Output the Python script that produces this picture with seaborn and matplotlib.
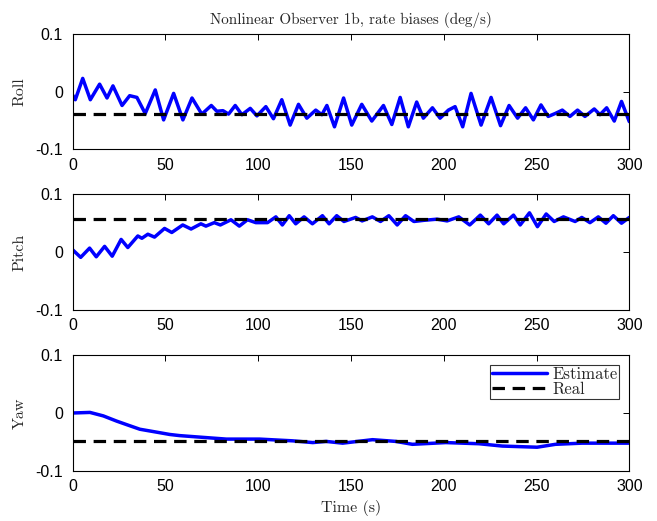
import matplotlib
matplotlib.use("Agg")
import matplotlib.pyplot as plt
import seaborn as sns
import pandas as pd

# ---------------- data ----------------
time_ticks = [0, 50, 100, 150, 200, 250, 300]
y_ticks = [-0.1, 0, 0.1]
y_tick_labels = ["-0.1", "0", "0.1"]
panel_names = ["Roll", "Pitch", "Yaw"]
title_text = "Nonlinear Observer 1b, rate biases (deg/s)"
xlabel_text = "Time (s)"
legend_labels = ["Estimate", "Real"]

roll_t = [0, 1.4, 5.4, 9.5, 14.5, 18.5, 21.7, 26.6, 30.7, 34.6, 39.1, 44.5, 49, 54.4,
          59.4, 64.3, 69.6, 74.7, 77.7, 81, 84, 87.6, 91.2, 95.7, 99.3, 104.1, 108.2,
          112.7, 117.2, 121.7, 126.2, 131, 134.3, 137, 141.1, 146, 150.4, 155.8, 161.2,
          167.5, 172, 176.5, 180.9, 185.4, 189, 193.9, 198, 202.5, 206.1, 210.2, 214.7,
          220.1, 225.5, 230.6, 235.2, 239.8, 244.1, 248.3, 252.4, 256.3, 260, 263.9,
          268, 272.1, 276.1, 281.1, 284.2, 287.8, 291.9, 295.8, 300]
roll_est = [-0.006, -0.014, 0.023, -0.014, 0.013, -0.011, 0.010, -0.024, -0.007, -0.010,
            -0.038, 0.003, -0.049, -0.003, -0.049, -0.011, -0.039, -0.024, -0.034, -0.033,
            -0.039, -0.024, -0.040, -0.029, -0.042, -0.026, -0.047, -0.014, -0.058, -0.022,
            -0.046, -0.032, -0.040, -0.024, -0.061, -0.011, -0.058, -0.022, -0.051, -0.024,
            -0.057, -0.010, -0.061, -0.018, -0.046, -0.028, -0.046, -0.032, -0.026, -0.061,
            -0.003, -0.058, -0.010, -0.059, -0.024, -0.046, -0.028, -0.049, -0.023, -0.043,
            -0.038, -0.032, -0.043, -0.032, -0.043, -0.030, -0.040, -0.028, -0.051, -0.017,
            -0.052]
roll_real = -0.038

pitch_t = [0, 4.3, 9.1, 12.7, 17.2, 21.3, 26.1, 29.7, 35.1, 37.3, 40.5, 44.1, 49.5, 53.4,
           59.3, 63.8, 69.1, 71.8, 76.3, 79.6, 85.3, 89.8, 94.2, 98.7, 105, 109.5, 113,
           116.7, 120.2, 124.7, 129.2, 134.6, 138.2, 142.3, 146.2, 149.8, 152.5, 156,
           161.5, 165.9, 170.4, 174.9, 179.4, 183.9, 189.2, 196.4, 201.8, 208.1, 214,
           219.7, 224.2, 228.7, 232.3, 237.6, 241.2, 246.2, 250.5, 255.2, 259.5, 264.5,
           270.8, 274.4, 278.8, 283.3, 287.4, 291.4, 295.8, 300]
pitch_est = [0.004, -0.009, 0.007, -0.008, 0.010, -0.007, 0.022, 0.008, 0.028, 0.024,
             0.031, 0.026, 0.041, 0.034, 0.047, 0.040, 0.049, 0.045, 0.051, 0.047, 0.056,
             0.045, 0.056, 0.051, 0.051, 0.061, 0.047, 0.063, 0.049, 0.061, 0.049, 0.063,
             0.049, 0.063, 0.053, 0.057, 0.060, 0.054, 0.061, 0.053, 0.063, 0.047, 0.063,
             0.053, 0.055, 0.057, 0.054, 0.061, 0.047, 0.064, 0.049, 0.064, 0.049, 0.064,
             0.047, 0.068, 0.044, 0.066, 0.053, 0.061, 0.053, 0.060, 0.051, 0.061, 0.050,
             0.063, 0.050, 0.060]
pitch_real = 0.057

yaw_t = [0, 9.3, 16.5, 23.7, 30.8, 36.2, 45.2, 52.3, 57.7, 70.2, 82.8, 100.7, 118.6,
         129.4, 136.6, 145.5, 161.6, 174.2, 183.1, 201.1, 219, 231.5, 250.3, 260.2,
         274.5, 300]
yaw_est = [0.0, 0.001, -0.005, -0.014, -0.022, -0.028, -0.033, -0.037, -0.039, -0.042,
           -0.045, -0.045, -0.048, -0.051, -0.049, -0.052, -0.046, -0.049, -0.054, -0.051,
           -0.053, -0.057, -0.059, -0.054, -0.052, -0.052]
yaw_real = -0.048

series = [(roll_t, roll_est, roll_real), (pitch_t, pitch_est, pitch_real),
          (yaw_t, yaw_est, yaw_real)]

# ---------------- style ----------------
sns.set_style("white")
plt.rcParams["font.family"] = ["Liberation Sans", "DejaVu Sans"]
plt.rcParams["axes.unicode_minus"] = False
plt.rcParams["xtick.direction"] = "in"
plt.rcParams["ytick.direction"] = "in"
plt.rcParams["xtick.top"] = True
plt.rcParams["ytick.right"] = True
plt.rcParams["mathtext.fontset"] = "cm"

serif = ["cmr10", "DejaVu Serif"]

W, H = 657, 521
fig = plt.figure(figsize=(W / 100, H / 100), dpi=100)

# panel boxes in pixels: (top, bottom)
boxes = [(34, 149.3), (194.3, 310), (355, 471)]
left_px, right_px = 72.7, 629.3

axes = []
for (top, bot) in boxes:
    ax = fig.add_axes([left_px / W, 1 - bot / H, (right_px - left_px) / W, (bot - top) / H])
    axes.append(ax)

for i, (ax, (t, est, real)) in enumerate(zip(axes, series)):
    df = pd.DataFrame({"t": t, "v": est})
    sns.lineplot(data=df, x="t", y="v", ax=ax, color=(0, 0, 1), lw=2.5,
                 label=legend_labels[0], legend=False, sort=False,
                 solid_joinstyle="round", solid_capstyle="round")
    dfr = pd.DataFrame({"t": [time_ticks[0], time_ticks[-1]], "v": [real, real]})
    sns.lineplot(data=dfr, x="t", y="v", ax=ax, color="black", lw=2.3,
                 label=legend_labels[1], legend=False, dashes=False)
    ax.lines[-1].set_dashes((3.9, 2.4))
    ax.set_xlim(time_ticks[0], time_ticks[-1])
    ax.set_ylim(-0.1, 0.1)
    ax.set_xticks(time_ticks)
    ax.set_xticklabels([str(v) for v in time_ticks])
    ax.set_yticks(y_ticks)
    ax.set_yticklabels(y_tick_labels)
    ax.tick_params(labelsize=11.5, length=4.5, width=0.7, colors="black")
    ax.tick_params(axis="y", pad=7)
    ax.tick_params(axis="x", pad=6)
    for s in ax.spines.values():
        s.set_linewidth(0.8)
        s.set_color("black")
    ax.set_xlabel("")
    ax.set_ylabel(panel_names[i], family=serif, fontsize=11.5)
    ax.yaxis.set_label_coords(-0.083, 0.5)

axes[0].set_title(title_text, family=serif, fontsize=10.9, pad=7)
axes[2].set_xlabel(xlabel_text, family=serif, fontsize=11.5, labelpad=4)

leg = axes[2].legend(loc="upper right", prop={"family": serif, "size": 12},
                     frameon=True, fancybox=False, edgecolor="black",
                     borderpad=0.12, labelspacing=-0.05, handlelength=3.3,
                     handletextpad=0.3, borderaxespad=0.6)
leg.get_frame().set_linewidth(0.8)

fig.savefig("out.png", dpi=100)
